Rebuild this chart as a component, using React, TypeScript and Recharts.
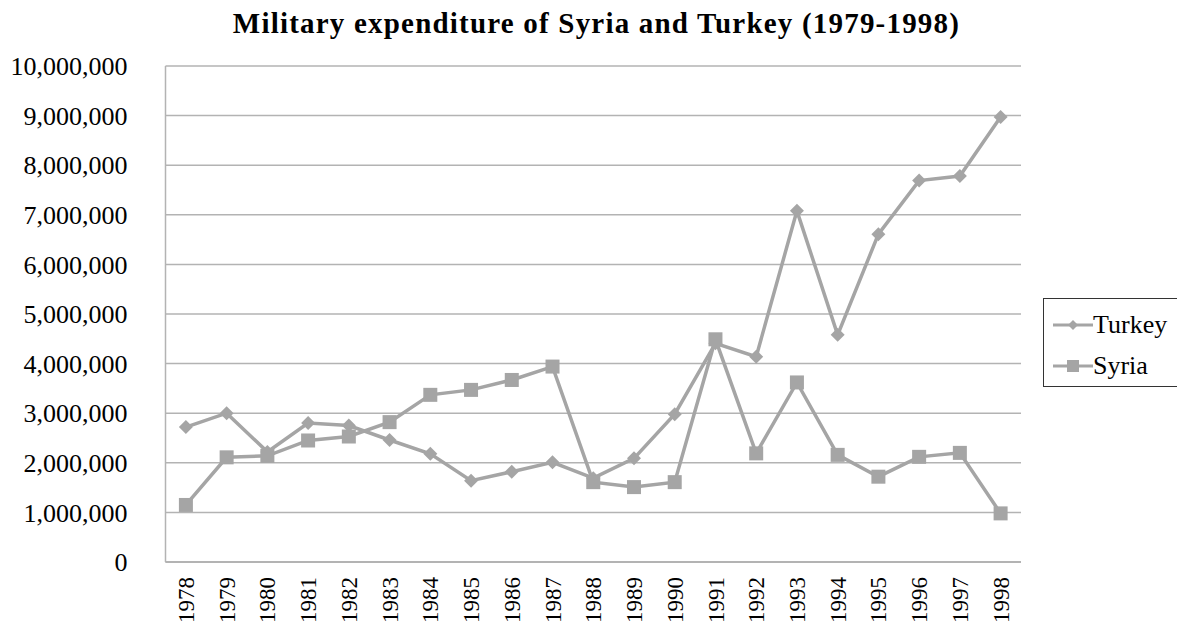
import { LineChart, Line, XAxis, YAxis, CartesianGrid, Legend } from 'recharts';

const years = [
    '1978', '1979', '1980', '1981', '1982', '1983', '1984', '1985', '1986', '1987', '1988',
    '1989', '1990', '1991', '1992', '1993', '1994', '1995', '1996', '1997', '1998',
];
const turkey = [
    2720000, 3000000, 2220000, 2800000, 2750000, 2460000, 2180000, 1640000, 1820000, 2010000, 1690000,
    2090000, 2980000, 4410000, 4140000, 7080000, 4580000, 6610000, 7690000, 7780000, 8970000,
];
const syria = [
    1150000, 2110000, 2140000, 2450000, 2530000, 2820000, 3370000, 3470000, 3670000, 3940000, 1610000,
    1510000, 1610000, 4490000, 2190000, 3620000, 2160000, 1720000, 2120000, 2200000, 980000,
];
const yTicks = [0, 1000000, 2000000, 3000000, 4000000, 5000000, 6000000, 7000000, 8000000, 9000000, 10000000];

const data = years.map((year, i) => ({ year, turkey: turkey[i], syria: syria[i] }));

const seriesColor = '#a5a5a5';
const gridColor = '#b3b3b3';
const font = '"Liberation Serif", "DejaVu Serif", serif';

const Diamond = (props: any) => {
    const { cx, cy } = props;
    if (cx == null || cy == null) return null;
    const r = 7;
    return <polygon points={`${cx},${cy - r} ${cx + r},${cy} ${cx},${cy + r} ${cx - r},${cy}`} fill={seriesColor} />;
};

const Square = (props: any) => {
    const { cx, cy } = props;
    if (cx == null || cy == null) return null;
    const s = 14;
    return <rect x={cx - s / 2} y={cy - s / 2} width={s} height={s} fill={seriesColor} />;
};

const YearTick = (props: any) => {
    const { x, payload } = props;
    const y = 577;
    return (
        <text
            x={x}
            y={y}
            dy="0.35em"
            transform={`rotate(-90, ${x}, ${y})`}
            textAnchor="end"
            fill="#000"
            fontSize={23}
            style={{ fontFamily: font }}
        >
            {payload.value}
        </text>
    );
};

const LegendBox = () => (
    <div
        style={{
            border: '1.5px solid #333',
            background: '#fff',
            width: 140,
            height: 89,
            boxSizing: 'border-box',
            fontFamily: font,
            fontSize: 26,
            color: '#000',
            paddingTop: 5,
        }}
    >
        {[
            { name: 'Turkey', shape: 'diamond' },
            { name: 'Syria', shape: 'square' },
        ].map((item) => (
            <div key={item.name} style={{ display: 'flex', alignItems: 'center', height: 41, paddingLeft: 9 }}>
                <svg width={40} height={20}>
                    <line x1={0} y1={10} x2={40} y2={10} stroke={seriesColor} strokeWidth={3} />
                    {item.shape === 'diamond' ? (
                        <polygon points="20,5 25,10 20,15 15,10" fill={seriesColor} />
                    ) : (
                        <rect x={14} y={4} width={12} height={12} fill={seriesColor} />
                    )}
                </svg>
                <span>{item.name}</span>
            </div>
        ))}
    </div>
);

export default function App() {
    return (
        <div style={{ position: 'absolute', left: 0, top: 0, width: 1177, height: 631, background: '#fff' }}>
            <div
                style={{
                    position: 'absolute',
                    left: 8,
                    top: 7,
                    width: 1177,
                    textAlign: 'center',
                    fontFamily: font,
                    fontWeight: 'bold',
                    fontSize: 29,
                    letterSpacing: 1.2,
                    color: '#000',
                }}
            >
                Military expenditure of Syria and Turkey (1979-1998)
            </div>
            <LineChart width={1177} height={631} data={data} margin={{ top: 66, right: 156, left: 0, bottom: 0 }}>
                <CartesianGrid horizontal vertical={false} stroke={gridColor} strokeWidth={1.5} />
                <XAxis
                    dataKey="year"
                    height={69}
                    padding={{ left: 20.4, right: 20.4 }}
                    interval={0}
                    tickLine={false}
                    axisLine={{ stroke: gridColor, strokeWidth: 2 }}
                    tick={<YearTick />}
                />
                <YAxis
                    width={165.5}
                    domain={[0, 10000000]}
                    ticks={yTicks}
                    interval={0}
                    tickLine={false}
                    tickSize={6}
                    tickMargin={32}
                    axisLine={{ stroke: gridColor, strokeWidth: 1.5 }}
                    tickFormatter={(v: number) => v.toLocaleString('en-US')}
                    tick={{ fill: '#000', fontSize: 26, style: { fontFamily: font } }}
                />
                <Legend
                    layout="vertical"
                    align="center"
                    verticalAlign="middle"
                    wrapperStyle={{ left: 1043, top: 298, width: 140 }}
                    content={<LegendBox />}
                />
                <Line
                    type="linear"
                    dataKey="turkey"
                    name="Turkey"
                    stroke={seriesColor}
                    strokeWidth={3.5}
                    dot={<Diamond />}
                    activeDot={false}
                    isAnimationActive={false}
                />
                <Line
                    type="linear"
                    dataKey="syria"
                    name="Syria"
                    stroke={seriesColor}
                    strokeWidth={3.5}
                    dot={<Square />}
                    activeDot={false}
                    isAnimationActive={false}
                />
            </LineChart>
        </div>
    );
}
